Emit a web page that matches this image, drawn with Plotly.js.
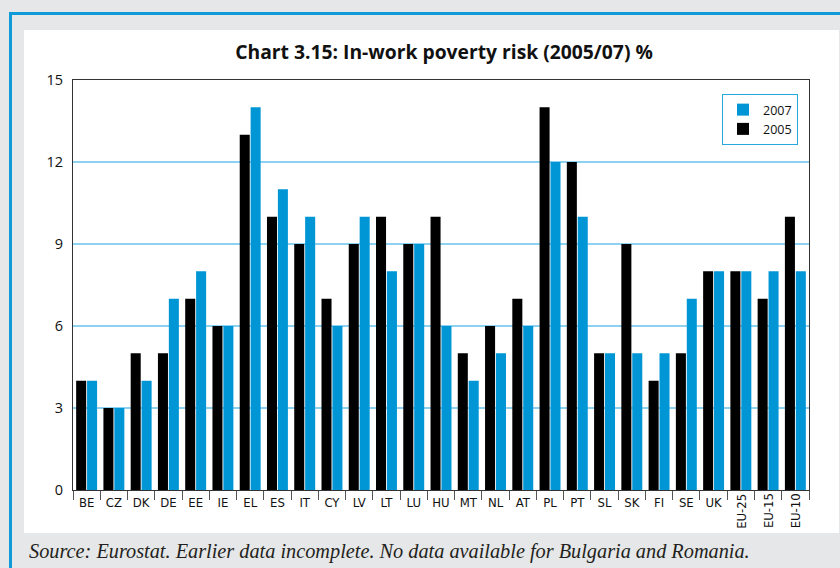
<!DOCTYPE html>
<html>
<head>
<meta charset="utf-8">
<script src="https://cdn.plot.ly/plotly-3.0.1.min.js"></script>
<style>html,body{margin:0;padding:0;background:#e6e7e8;}#chart{width:840px;height:568px;}</style>
</head>
<body>
<div id="chart"></div>
<script>
const categories = ["BE","CZ","DK","DE","EE","IE","EL","ES","IT","CY","LV","LT","LU","HU","MT","NL","AT","PL","PT","SL","SK","FI","SE","UK","EU-25","EU-15","EU-10"];
const values2005 = [4,3,5,5,7,6,13,10,9,7,9,10,9,10,5,6,7,14,12,5,9,4,5,8,8,7,10];
const values2007 = [4,3,4,7,8,6,14,11,10,6,10,8,9,6,4,5,6,12,10,5,5,5,7,8,8,8,8];
const yTicks = [0,3,6,9,12,15];
const titleText = "Chart 3.15: In-work poverty risk (2005/07) %";
const sourceText = "Source: Eurostat. Earlier data incomplete. No data available for Bulgaria and Romania.";

const W = 840, H = 568;
const L = 73, R = 809, T = 80, B = 490;
const px = x => (x - L) / (R - L);
const py = y => (B - y) / (B - T);

const isRot = c => c.indexOf("EU") === 0;
const tickFamily = "DejaVu Sans Condensed, Liberation Sans Narrow, Roboto, sans-serif";

const traces = [
  {type:"bar", name:"2005", x:categories, y:values2005, marker:{color:"#000000"}, hoverinfo:"x+y+name"},
  {type:"bar", name:"2007", x:categories, y:values2007, marker:{color:"#0096d6"}, hoverinfo:"x+y+name"}
];

const annotations = categories.filter(isRot).map(c => ({
  x: c, xref:"x", y: py(511), yref:"paper", text: c, textangle:-90, showarrow:false,
  xanchor:"center", yanchor:"middle",
  font:{family:tickFamily, size:13, color:"#111"}
}));
annotations.push({
  x: px(27), xref:"paper", y: py(551), yref:"paper", xanchor:"left", yanchor:"middle",
  text: "<i>" + sourceText + "</i>", showarrow:false,
  font:{family:"Liberation Serif, DejaVu Serif, serif", size:20.3, color:"#231f20"}
});

const shapes = [
  {type:"rect", xref:"paper", yref:"paper", x0:px(24), x1:px(839), y0:py(533), y1:py(30), fillcolor:"#ffffff", line:{width:0}, layer:"below"},
  {type:"rect", xref:"paper", yref:"paper", x0:px(9), x1:px(12), y0:py(568), y1:py(12), fillcolor:"#0f9bd7", line:{width:0}, layer:"below"},
  {type:"rect", xref:"paper", yref:"paper", x0:px(9), x1:px(840), y0:py(15), y1:py(12), fillcolor:"#0f9bd7", line:{width:0}, layer:"below"}
];

const layout = {
  width: W, height: H,
  margin: {l: L, r: W - R, t: T, b: H - B, pad: 0},
  paper_bgcolor: "#e6e7e8",
  plot_bgcolor: "#ffffff",
  barmode: "group",
  bargap: 0.2,
  bargroupgap: 0.08,
  title: {text: "<b>" + titleText + "</b>", xref:"container", x: 444/W, xanchor:"center", yref:"container", y: 1 - 52/H, yanchor:"middle",
          font:{family:"Open Sans, Noto Sans, sans-serif", size:19.3, color:"#111"}},
  xaxis: {
    type:"category",
    tickmode:"array", tickvals: categories, ticktext: categories.map(c => isRot(c) ? "" : c),
    tickson:"boundaries", ticks:"outside", ticklen:9, tickcolor:"#555", tickwidth:1,
    showline:true, linecolor:"#333", linewidth:1, mirror:true,
    showgrid:false, tickangle:0,
    tickfont:{family:tickFamily, size:13, color:"#111"},
    fixedrange:true
  },
  yaxis: {
    range:[0,15], tickmode:"array", tickvals:yTicks, ticktext:yTicks.map(String),
    showgrid:true, gridcolor:"#8dd3f1", gridwidth:1.5,
    showline:true, linecolor:"#333", linewidth:1, mirror:true,
    ticks:"", zeroline:false, ticklabelstandoff:6,
    tickfont:{family:"Open Sans, Noto Sans, sans-serif", size:14.5, color:"#111"},
    fixedrange:true
  },
  legend: {
    x: px(722), xanchor:"left", y: py(94), yanchor:"top",
    traceorder:"reversed", bgcolor:"#ffffff", bordercolor:"#29a8e0", borderwidth:1,
    font:{family:"Open Sans, Noto Sans, sans-serif", size:12.5, color:"#111"},
    itemwidth:30, tracegroupgap:2
  },
  showlegend: true,
  annotations: annotations,
  shapes: shapes
};

Plotly.newPlot("chart", traces, layout, {displayModeBar:false, staticPlot:true});
</script>
</body>
</html>
